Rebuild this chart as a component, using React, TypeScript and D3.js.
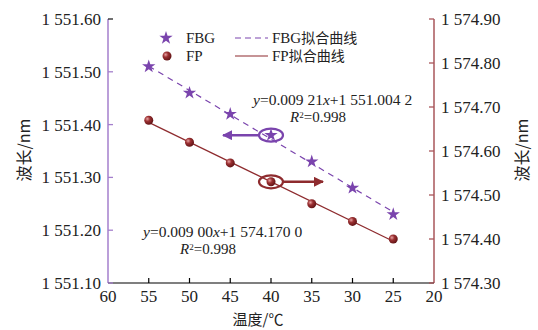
import React from "react";
import * as d3 from "d3";

const temps = [55, 50, 45, 40, 35, 30, 25];
const fbgValues = [1551.51, 1551.46, 1551.42, 1551.38, 1551.33, 1551.28, 1551.23];
const fpValues = [1574.67, 1574.62, 1574.573, 1574.53, 1574.48, 1574.44, 1574.4];
const xTicks = [60, 55, 50, 45, 40, 35, 30, 25, 20];
const leftTicks = [1551.1, 1551.2, 1551.3, 1551.4, 1551.5, 1551.6];
const rightTicks = [1574.3, 1574.4, 1574.5, 1574.6, 1574.7, 1574.8, 1574.9];
const fbgFit = { slope: 0.00921, intercept: 1551.0042 };
const fpFit = { slope: 0.009, intercept: 1574.17 };

const W = 538;
const H = 330;
const PURPLE = "#7a44ad";
const PURPLE_AXIS = "#a47fcc";
const RED = "#8e2b2e";
const RED_AXIS = "#a9565a";
const SERIF = "'Liberation Serif', 'Times New Roman', serif";
const CJK = "'Noto Sans CJK SC', sans-serif";

const fmt = (v: number) => {
  const s = v.toFixed(2);
  return s[0] + " " + s.slice(1);
};

export default function App() {
  const x = d3.scaleLinear().domain([60, 20]).range([108, 434]);
  const yL = d3.scaleLinear().domain([1551.1, 1551.6]).range([283, 19]);
  const yR = d3.scaleLinear().domain([1574.3, 1574.9]).range([283, 19]);

  const fbgLine = d3
    .line<number>()
    .x((t) => x(t))
    .y((t) => yL(fbgFit.slope * t + fbgFit.intercept))([55, 25]);
  const fpLine = d3
    .line<number>()
    .x((t) => x(t))
    .y((t) => yR(fpFit.slope * t + fpFit.intercept))([55, 25]);

  const star = d3.symbol().type(d3.symbolStar).size(55)() as string;

  const x40 = x(40);
  const fbg40 = yL(fbgValues[3]);
  const fp40 = yR(fpValues[3]);

  return (
    <svg
      width={W}
      height={H}
      style={{ position: "absolute", left: 0, top: 0, background: "#fff" }}
    >
      <defs>
        <radialGradient id="ball" cx="35%" cy="35%" r="70%">
          <stop offset="0%" stopColor="#e8a3a3" />
          <stop offset="40%" stopColor="#9b3032" />
          <stop offset="100%" stopColor="#5e1214" />
        </radialGradient>
        <marker id="arrP" viewBox="0 0 10 10" refX="9" refY="5" markerWidth="4" markerHeight="4" orient="auto">
          <path d="M0,0 L10,5 L0,10 z" fill={PURPLE} />
        </marker>
        <marker id="arrR" viewBox="0 0 10 10" refX="9" refY="5" markerWidth="4" markerHeight="4" orient="auto">
          <path d="M0,0 L10,5 L0,10 z" fill={RED} />
        </marker>
      </defs>

      {/* axes */}
      <line x1={108} x2={108} y1={19} y2={283} stroke={PURPLE_AXIS} strokeWidth={1.5} />
      <line x1={434} x2={434} y1={19} y2={283} stroke={RED_AXIS} strokeWidth={1.5} />
      <line x1={108} x2={434} y1={283} y2={283} stroke="#000" strokeWidth={1.2} />

      {leftTicks.map((v) => (
        <g key={"l" + v}>
          <line x1={108} x2={113} y1={yL(v)} y2={yL(v)} stroke={v === 1551.6 ? "#222" : PURPLE_AXIS} strokeWidth={1.3} />
          <text x={101} y={yL(v)} dy="0.35em" textAnchor="end" fontFamily={SERIF} fontSize={17} fill="#222">
            {fmt(v)}
          </text>
        </g>
      ))}
      {rightTicks.map((v) => (
        <g key={"r" + v}>
          <line x1={429} x2={434} y1={yR(v)} y2={yR(v)} stroke={RED_AXIS} strokeWidth={1.3} />
          <text x={441} y={yR(v)} dy="0.35em" textAnchor="start" fontFamily={SERIF} fontSize={17} fill="#222">
            {fmt(v)}
          </text>
        </g>
      ))}
      {xTicks.map((t) => (
        <g key={"x" + t}>
          {t !== 60 && t !== 20 && (
            <line x1={x(t)} x2={x(t)} y1={283} y2={278} stroke="#000" strokeWidth={1.2} />
          )}
          <text x={x(t)} y={302} textAnchor="middle" fontFamily={SERIF} fontSize={17} fill="#222">
            {t}
          </text>
        </g>
      ))}

      {/* axis titles */}
      <text x={258} y={325} fontFamily={CJK} fontSize={15} fill="#222" textAnchor="middle">
        温度/℃
      </text>
      <text transform="translate(30,150) rotate(-90)" fontFamily={CJK} fontSize={16} fill="#222" textAnchor="middle">
        波长/nm
      </text>
      <text transform="translate(528,150) rotate(-90)" fontFamily={CJK} fontSize={16} fill="#222" textAnchor="middle">
        波长/nm
      </text>

      {/* fitted lines */}
      <path d={fbgLine ?? ""} fill="none" stroke={PURPLE} strokeWidth={1.2} strokeDasharray="6,5" />
      <path d={fpLine ?? ""} fill="none" stroke={RED} strokeWidth={1.2} />

      {/* data points */}
      {temps.map((t, i) => (
        <path key={"s" + t} d={star} transform={`translate(${x(t)},${yL(fbgValues[i])})`} fill={PURPLE} />
      ))}
      {temps.map((t, i) => (
        <circle key={"c" + t} cx={x(t)} cy={yR(fpValues[i])} r={4.5} fill="url(#ball)" />
      ))}

      {/* direction markers */}
      <ellipse cx={x40} cy={fbg40} rx={12} ry={6.5} fill="none" stroke={PURPLE} strokeWidth={2.2} />
      <line x1={x40 - 12} y1={fbg40} x2={223} y2={fbg40} stroke={PURPLE} strokeWidth={2.5} markerEnd="url(#arrP)" />
      <ellipse cx={x40} cy={fp40} rx={12} ry={6.5} fill="none" stroke={RED} strokeWidth={2.2} />
      <line x1={x40 + 12} y1={fp40} x2={323} y2={fp40} stroke={RED} strokeWidth={2.5} markerEnd="url(#arrR)" />

      {/* legend */}
      <path d={star} transform="translate(166,38)" fill={PURPLE} />
      <text x={186} y={43} fontFamily={SERIF} fontSize={15} fill="#222">FBG</text>
      <circle cx={167} cy={56} r={4.5} fill="url(#ball)" />
      <text x={186} y={61} fontFamily={SERIF} fontSize={15} fill="#222">FP</text>
      <line x1={235} x2={268} y1={38} y2={38} stroke={PURPLE} strokeWidth={1.2} strokeDasharray="6,4" />
      <text x={272} y={43} fontFamily={SERIF} fontSize={15} fill="#222">
        FBG<tspan fontFamily={CJK} fontSize={14}>拟合曲线</tspan>
      </text>
      <line x1={235} x2={268} y1={56} y2={56} stroke={RED} strokeWidth={1.2} />
      <text x={272} y={61} fontFamily={SERIF} fontSize={15} fill="#222">
        FP<tspan fontFamily={CJK} fontSize={14}>拟合曲线</tspan>
      </text>

      {/* fit equations */}
      <text x={253} y={105} fontFamily={SERIF} fontSize={15.5} fill="#222">
        <tspan fontStyle="italic">y</tspan>=0.009 21<tspan fontStyle="italic">x</tspan>+1 551.004 2
      </text>
      <text x={290} y={122} fontFamily={SERIF} fontSize={15} fill="#222">
        <tspan fontStyle="italic">R</tspan><tspan fontSize={9} dy={-4.5}>2</tspan><tspan dy={4.5}>=0.998</tspan>
      </text>
      <text x={143} y={237} fontFamily={SERIF} fontSize={15.5} fill="#222">
        <tspan fontStyle="italic">y</tspan>=0.009 00<tspan fontStyle="italic">x</tspan>+1 574.170 0
      </text>
      <text x={180} y={254} fontFamily={SERIF} fontSize={15} fill="#222">
        <tspan fontStyle="italic">R</tspan><tspan fontSize={9} dy={-4.5}>2</tspan><tspan dy={4.5}>=0.998</tspan>
      </text>
    </svg>
  );
}
